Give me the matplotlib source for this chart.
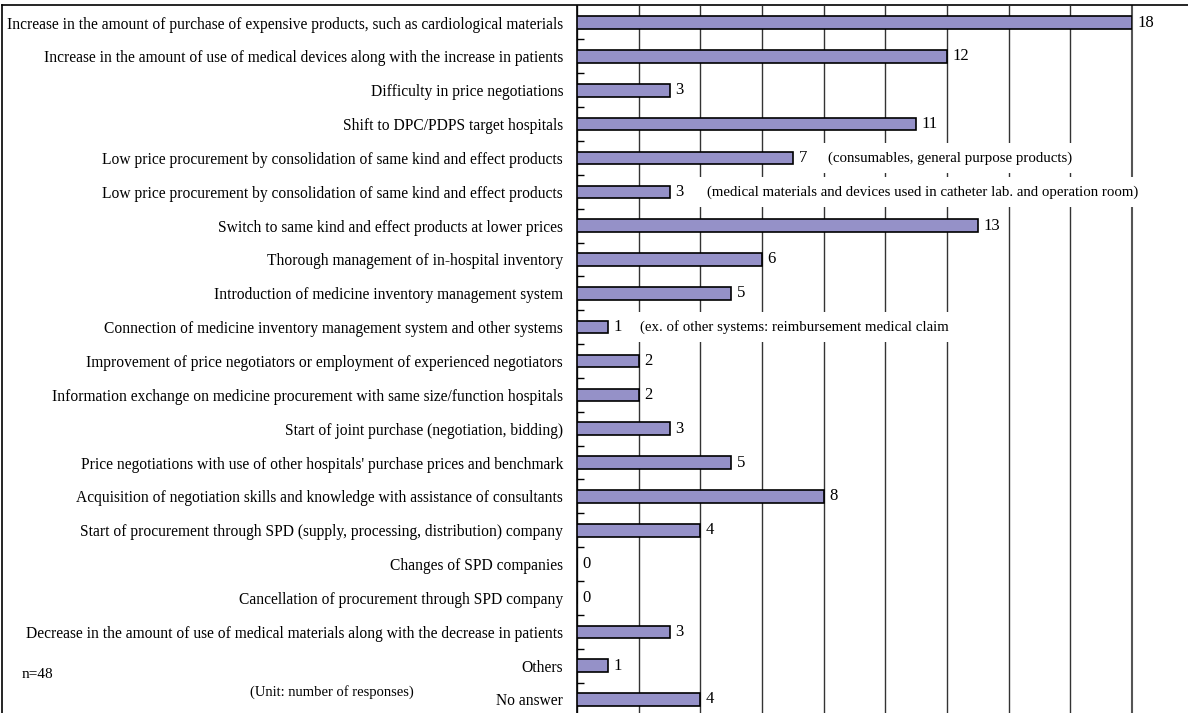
import matplotlib
matplotlib.use('Agg')
import matplotlib.pyplot as plt
from matplotlib.lines import Line2D

plt.rcParams['font.family'] = ['Liberation Serif', 'DejaVu Serif']

items = [
    'Increase in the amount of purchase of expensive products, such as cardiological materials',
    'Increase in the amount of use of medical devices along with the increase in patients',
    'Difficulty in price negotiations',
    'Shift to DPC/PDPS target hospitals',
    'Low price procurement by consolidation of same kind and effect products',
    'Low price procurement by consolidation of same kind and effect products',
    'Switch to same kind and effect products at lower prices',
    'Thorough management of in-hospital inventory',
    'Introduction of medicine inventory management system',
    'Connection of medicine inventory management system and other systems',
    'Improvement of price negotiators or employment of experienced negotiators',
    'Information exchange on medicine procurement with same size/function hospitals',
    'Start of joint purchase (negotiation, bidding)',
    "Price negotiations with use of other hospitals' purchase prices and benchmark",
    'Acquisition of negotiation skills and knowledge with assistance of consultants',
    'Start of procurement through SPD (supply, processing, distribution) company',
    'Changes of SPD companies',
    'Cancellation of procurement through SPD company',
    'Decrease in the amount of use of medical materials along with the decrease in patients',
    'Others',
    'No answer',
]
counts = [18, 12, 3, 11, 7, 3, 13, 6, 5, 1, 2, 2, 3, 5, 8, 4, 0, 0, 3, 1, 4]

# notes placed to the right of some bars: (row, x in data units, text)
notes = [
    (4, 8.15, '(consumables, general purpose products)'),
    (5, 4.2, '(medical materials and devices used in catheter lab. and operation room)'),
    (9, 2.05, '(ex. of other systems: reimbursement medical claim'),
]

fig = plt.figure(figsize=(11.88, 7.13), dpi=100)
ax = fig.add_axes([0.4857, -0.0048, 0.9529 - 0.4857, 0.9921 + 0.0048])

pos = list(range(len(items)))
ax.barh(pos, counts, height=0.37, color='#9591C8', edgecolor='black', linewidth=1.2, zorder=3)

for i, v in enumerate(counts):
    ax.annotate(str(v), (v, i), xytext=(4, 0), textcoords='offset points',
                va='center', ha='left', fontsize=12)

for row, x, txt in notes:
    ax.text(x, row, txt, va='center', ha='left', fontsize=10.7, zorder=5,
            bbox=dict(facecolor='white', edgecolor='none', pad=6))

ax.set_xlim(0, 18)
ax.set_ylim(len(items) - 0.5, -0.5)
ax.set_xticks(range(0, 19, 2))
ax.xaxis.grid(True, color='#333333', linewidth=1.0, zorder=0)
ax.tick_params(axis='x', length=0, labelbottom=False)

ax.set_yticks(pos)
ax.set_yticklabels(items, fontsize=11.2)
ax.set_yticks([p + 0.5 for p in pos[:-1]], minor=True)
ax.tick_params(axis='y', which='major', length=0, pad=10)
ax.tick_params(axis='y', which='minor', direction='in', length=5, width=1, color='black')

ax.spines['left'].set_color('black')
ax.spines['left'].set_linewidth(1.2)
ax.spines['right'].set_color('#555555')
ax.spines['right'].set_linewidth(1.5)
ax.spines['top'].set_visible(False)
ax.spines['bottom'].set_visible(False)

# outer frame of the original figure (left and top edges)
fig.add_artist(Line2D([0.002, 0.002], [0, 0.9925], transform=fig.transFigure, color='black', lw=1.2))
fig.add_artist(Line2D([0.002, 1.0], [0.9925, 0.9925], transform=fig.transFigure, color='black', lw=1.2))

fig.text(22 / 1188, 1 - 675 / 713, 'n=48', fontsize=11, va='center', ha='left')
fig.text(250 / 1188, 1 - 692 / 713, '(Unit: number of responses)', fontsize=10.5, va='center', ha='left')

fig.savefig('out.png', dpi=100)
